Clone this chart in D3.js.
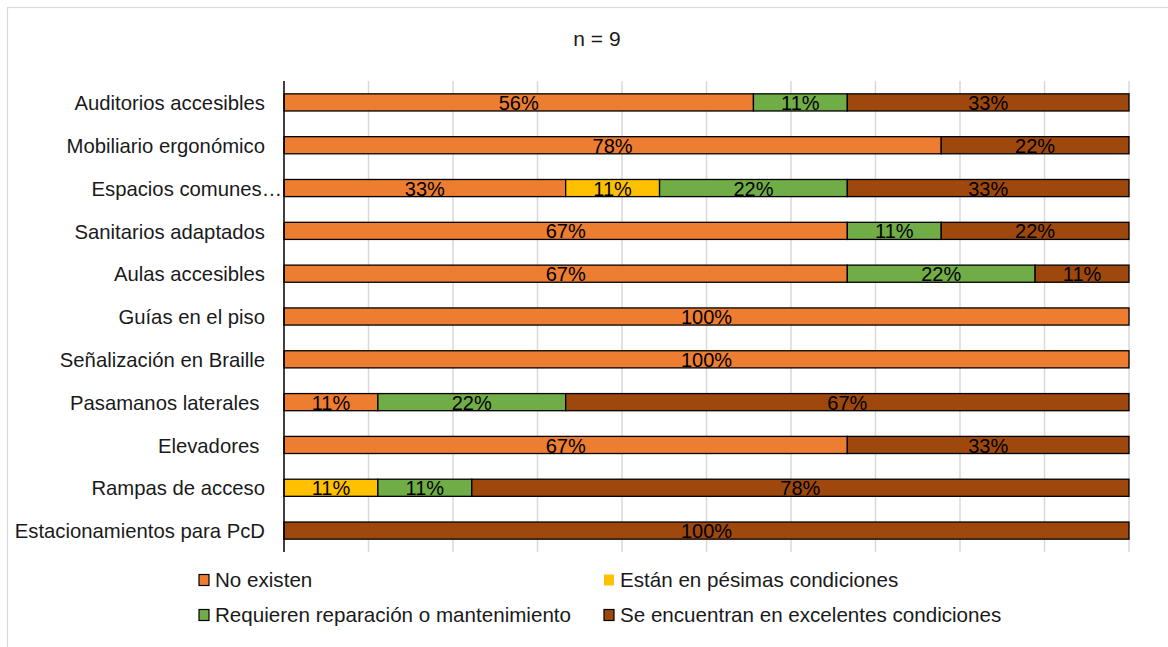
<!DOCTYPE html>
<html>
<head>
<meta charset="utf-8">
<script src="https://cdn.jsdelivr.net/npm/d3@7"></script>
<style>
  html, body { margin: 0; padding: 0; background: #fff; }
  svg { display: block; font-family: "Liberation Sans", Arial, sans-serif; }
  text { white-space: pre; }
</style>
</head>
<body>
<svg id="chart" width="1168" height="647"></svg>
<script>
// Accessibility features, n = 9 respondents (counts per condition)
const categories = [
  "Auditorios accesibles",
  "Mobiliario ergonómico",
  "Espacios comunes…",
  "Sanitarios adaptados",
  "Aulas accesibles",
  "Guías en el piso",
  "Señalización en Braille",
  "Pasamanos laterales ",
  "Elevadores ",
  "Rampas de acceso",
  "Estacionamientos para PcD"
];
const seriesNames = [
  "No existen",
  "Están en pésimas condiciones",
  "Requieren reparación o mantenimiento",
  "Se encuentran en excelentes condiciones"
];
const noExisten     = [5, 7, 3, 6, 6, 9, 9, 1, 6, 0, 0];
const pesimas       = [0, 0, 1, 0, 0, 0, 0, 0, 0, 1, 0];
const reparacion    = [1, 0, 2, 1, 2, 0, 0, 2, 0, 1, 0];
const excelentes    = [3, 2, 3, 2, 1, 0, 0, 6, 3, 7, 9];
const total = 9;
const colors = ["#ED7D31", "#FFC000", "#70AD47", "#9E480E"];

const seriesValues = [noExisten, pesimas, reparacion, excelentes];
const rows = categories.map((c, i) => {
  const r = { category: c };
  seriesNames.forEach((s, k) => { r[s] = seriesValues[k][i] / total; });
  return r;
});

const svg = d3.select("#chart");
const textSize = 20.3;

// outer chart frame
svg.append("rect")
  .attr("x", 7.5).attr("y", 7.5)
  .attr("width", 1400).attr("height", 1000)
  .attr("fill", "none").attr("stroke", "#d9d9d9").attr("stroke-width", 1.2);

const plot = { left: 284, right: 1129, top: 81, bottom: 552 };

const x = d3.scaleLinear().domain([0, 1]).range([plot.left, plot.right]);
const y = d3.scaleBand().domain(categories).range([plot.top, plot.bottom])
  .paddingInner(0.6).paddingOuter(0.3);

// title
svg.append("text")
  .attr("x", 597).attr("y", 46)
  .attr("text-anchor", "middle")
  .attr("font-size", 21).attr("fill", "#1a1a1a")
  .text("n = 9");

// vertical gridlines
svg.append("g")
  .selectAll("line")
  .data(d3.range(1, 11).map(d => d / 10))
  .join("line")
  .attr("x1", d => x(d)).attr("x2", d => x(d))
  .attr("y1", plot.top).attr("y2", plot.bottom)
  .attr("stroke", "#d9d9d9").attr("stroke-width", 1.5);

// stacked bars
const stack = d3.stack().keys(seriesNames);
const stacked = stack(rows);

const layers = svg.append("g")
  .selectAll("g")
  .data(stacked)
  .join("g")
  .attr("fill", (d, i) => colors[i]);

layers.selectAll("rect")
  .data(d => d.filter(s => s[1] - s[0] > 0))
  .join("rect")
  .attr("x", d => x(d[0]))
  .attr("y", d => y(d.data.category))
  .attr("width", d => x(d[1]) - x(d[0]))
  .attr("height", y.bandwidth())
  .attr("stroke", "#000").attr("stroke-width", 1.3);

// value labels
layers.selectAll("text")
  .data(d => d.filter(s => s[1] - s[0] > 0))
  .join("text")
  .attr("x", d => (x(d[0]) + x(d[1])) / 2)
  .attr("y", d => y(d.data.category) + y.bandwidth() / 2)
  .attr("dy", "0.38em")
  .attr("text-anchor", "middle")
  .attr("font-size", 20).attr("fill", "#000")
  .text(d => Math.round((d[1] - d[0]) * 100) + "%");

// category axis
const yAxis = svg.append("g");
yAxis.append("line")
  .attr("x1", plot.left).attr("x2", plot.left)
  .attr("y1", plot.top).attr("y2", plot.bottom)
  .attr("stroke", "#000").attr("stroke-width", 1.5);
yAxis.selectAll("text")
  .data(categories)
  .join("text")
  .attr("x", d => d.endsWith("…") ? plot.left - 2 : plot.left - 19)
  .attr("y", d => y(d) + y.bandwidth() / 2)
  .attr("dy", "0.38em")
  .attr("text-anchor", "end")
  .attr("font-size", textSize).attr("fill", "#1a1a1a")
  .text(d => d);

// legend
const legendPos = [
  { x: 199, y: 580 },
  { x: 604, y: 580 },
  { x: 199, y: 615 },
  { x: 604, y: 615 }
];
const legend = svg.append("g")
  .selectAll("g")
  .data(seriesNames)
  .join("g")
  .attr("transform", (d, i) => `translate(${legendPos[i].x},${legendPos[i].y})`);
legend.append("rect")
  .attr("x", 0).attr("y", -5.5)
  .attr("width", 10).attr("height", 11)
  .attr("fill", (d, i) => colors[i])
  .attr("stroke", (d, i) => i === 1 ? "none" : "#000")
  .attr("stroke-width", 1.2);
legend.append("text")
  .attr("x", 16).attr("y", 0)
  .attr("dy", "0.36em")
  .attr("font-size", 20.6).attr("fill", "#1a1a1a")
  .text(d => d);
</script>
</body>
</html>
